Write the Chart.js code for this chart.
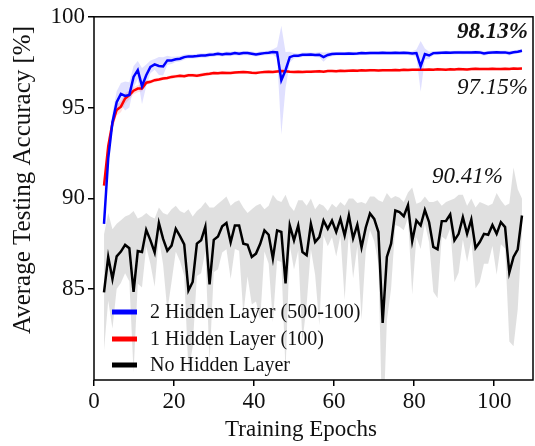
<!DOCTYPE html>
<html>
<head>
<meta charset="utf-8">
<script src="https://cdn.jsdelivr.net/npm/chart.js@4.4.1/dist/chart.umd.min.js"></script>
<style>
  html, body { margin: 0; padding: 0; background: #fff; }
  #wrap { width: 535px; height: 446px; }
</style>
</head>
<body>
<div id="wrap"><canvas id="accChart" width="535" height="446"></canvas></div>
<script>
// sampling grid of the curves (one point per evaluation)
const FIRST_EPOCH = 2.5;
const EPOCH_STEP = 1.055;

const seriesNames = ['2 Hidden Layer (500-100)', '1 Hidden Layer (100)', 'No Hidden Layer'];
const finalLabels = ['98.13%', '97.15%', '90.41%'];
const xTitle = 'Training Epochs';
const yTitle = 'Average Testing Accuracy [%]';
const xTicks = [0, 20, 40, 60, 80, 100];
const yTicks = [85, 90, 95, 100];

// 2 hidden layers (500-100): mean and half-width of the band
const twoHidden = [
  88.6, 92.2, 94.2, 95.3, 95.75, 95.64, 95.7, 96.69, 97.06, 96.18,
  96.78, 97.24, 97.38, 97.29, 97.27, 97.6, 97.6, 97.66, 97.69, 97.78,
  97.82, 97.82, 97.84, 97.87, 97.87, 97.91, 97.92, 97.97, 97.93, 97.97,
  97.95, 98.0, 97.97, 98.0, 98.0, 97.97, 97.93, 97.97, 98.0, 98.02,
  98.06, 98.04, 96.51, 97.06, 97.78, 97.86, 97.86, 97.91, 97.91, 97.92,
  97.9, 97.91, 97.78, 97.9, 97.95, 97.96, 97.97, 97.96, 97.98, 97.97,
  97.98, 98.0, 97.99, 98.0, 98.01, 98.0, 98.02, 98.01, 98.0, 98.02,
  98.01, 98.02, 98.0, 97.98, 98.0, 97.27, 97.95, 97.87, 98.0, 98.01,
  98.02, 98.03, 98.02, 98.03, 98.04, 98.03, 98.04, 98.03, 98.05, 98.04,
  97.98, 98.02, 98.04, 98.05, 98.03, 98.04, 97.99, 98.05, 98.08, 98.13
];
const twoHiddenSpread = [
  0.3, 0.5, 0.5, 0.6, 0.6, 0.8, 0.7, 0.6, 0.5, 1.0,
  0.6, 0.35, 0.3, 0.5, 0.5, 0.25, 0.2, 0.15, 0.15, 0.15,
  0.12, 0.12, 0.12, 0.12, 0.12, 0.12, 0.12, 0.12, 0.12, 0.12,
  0.12, 0.12, 0.12, 0.12, 0.12, 0.12, 0.12, 0.12, 0.12, 0.12,
  0.15, 0.3, 3.0, 1.0, 0.3, 0.15, 0.12, 0.12, 0.12, 0.12,
  0.12, 0.15, 0.25, 0.15, 0.12, 0.1, 0.1, 0.1, 0.1, 0.1,
  0.1, 0.1, 0.1, 0.1, 0.1, 0.1, 0.1, 0.1, 0.1, 0.1,
  0.1, 0.1, 0.1, 0.12, 0.2, 1.4, 0.3, 0.2, 0.12, 0.1,
  0.1, 0.1, 0.1, 0.1, 0.1, 0.1, 0.1, 0.1, 0.1, 0.1,
  0.12, 0.1, 0.1, 0.1, 0.1, 0.1, 0.12, 0.1, 0.1, 0.1
];

// 1 hidden layer (100): mean and half-width of the band
const oneHidden = [
  90.7, 92.87, 94.15, 94.87, 95.05, 95.5, 95.69, 95.93, 96.05, 96.05,
  96.37, 96.42, 96.51, 96.55, 96.6, 96.63, 96.69, 96.72, 96.75, 96.73,
  96.78, 96.78, 96.76, 96.8, 96.84, 96.86, 96.9, 96.89, 96.92, 96.91,
  96.9, 96.93, 96.95, 96.96, 96.94, 96.92, 96.91, 96.94, 96.96, 96.97,
  96.96, 96.99, 97.02, 97.0, 96.97, 96.96, 96.97, 96.96, 96.98, 96.97,
  96.99, 97.0, 96.98, 97.01, 97.02, 97.0, 97.03, 97.02, 97.03, 97.04,
  97.03, 97.05, 97.04, 97.06, 97.05, 97.04, 97.06, 97.05, 97.06, 97.07,
  97.06, 97.08, 97.07, 97.09, 97.08, 97.09, 97.08, 97.1, 97.09, 97.11,
  97.1, 97.09, 97.11, 97.1, 97.12, 97.11, 97.1, 97.12, 97.14, 97.12,
  97.13, 97.12, 97.14, 97.13, 97.12, 97.14, 97.13, 97.15, 97.14, 97.15
];
const oneHiddenSpread = [
  0.4, 0.4, 0.35, 0.3, 0.3, 0.3, 0.25, 0.2, 0.2, 0.15,
  0.12, 0.1, 0.1, 0.1, 0.1, 0.1, 0.1, 0.1, 0.1, 0.1,
  0.1, 0.1, 0.1, 0.1, 0.1, 0.1, 0.1, 0.1, 0.1, 0.1,
  0.08, 0.08, 0.08, 0.08, 0.08, 0.08, 0.08, 0.08, 0.08, 0.08,
  0.08, 0.08, 0.08, 0.08, 0.08, 0.08, 0.08, 0.08, 0.08, 0.08,
  0.08, 0.08, 0.08, 0.08, 0.08, 0.08, 0.08, 0.08, 0.08, 0.08,
  0.08, 0.08, 0.08, 0.08, 0.08, 0.08, 0.08, 0.08, 0.08, 0.08,
  0.08, 0.08, 0.08, 0.08, 0.08, 0.08, 0.08, 0.08, 0.08, 0.08,
  0.08, 0.08, 0.08, 0.08, 0.08, 0.08, 0.08, 0.08, 0.08, 0.08,
  0.08, 0.08, 0.08, 0.08, 0.08, 0.08, 0.08, 0.08, 0.08, 0.08
];

// no hidden layer: mean, upper and lower edge of the grey band
const noHidden = [
  84.82, 86.78, 85.56, 86.81, 87.07, 87.44, 87.26, 84.85, 87.1, 87.05,
  88.27, 87.69, 87.02, 88.65, 87.77, 87.12, 87.4, 88.33, 87.92, 87.47,
  84.93, 85.4, 87.51, 87.69, 88.44, 85.26, 87.72, 87.9, 88.46, 88.65,
  87.58, 88.51, 88.51, 87.51, 87.45, 86.78, 86.96, 87.5, 88.24, 88.0,
  86.69, 88.24, 88.15, 85.32, 88.51, 87.69, 88.51, 87.05, 86.87, 88.6,
  87.6, 87.87, 88.78, 88.33, 88.78, 88.15, 88.87, 87.96, 89.06, 87.8,
  88.55, 87.3, 88.4, 89.17, 88.87, 88.15, 83.14, 86.78, 87.51, 89.33,
  89.24, 89.02, 89.63, 87.65, 88.78, 88.51, 89.36, 88.69, 87.33, 87.2,
  88.75, 88.76, 89.12, 87.69, 88.05, 88.96, 88.05, 88.84, 87.27, 87.6,
  88.05, 88.0, 88.54, 88.05, 88.69, 88.42, 85.92, 86.78, 87.2, 89.06
];
const noHiddenUpper = [
  88.02, 89.2, 88.3, 88.61, 88.8, 89.0, 89.1, 89.3, 88.9, 89.0,
  89.2, 89.0, 88.9, 89.5, 89.2, 89.1, 89.4, 89.6, 89.3, 89.2,
  89.4, 89.0, 89.3, 89.5, 89.8, 89.5, 89.5, 89.7, 89.9, 90.1,
  89.6, 89.8, 89.9, 89.5, 89.2, 89.4, 89.6, 89.7, 89.4, 89.6,
  90.2, 89.9, 89.8, 90.2, 89.6, 89.3, 89.9, 89.9, 89.6, 90.0,
  89.4, 89.7, 89.6, 89.3, 89.7, 89.5, 89.8, 89.6, 90.0, 90.0,
  89.74, 89.8, 89.7, 90.1, 90.1, 89.9, 89.8, 90.3, 90.0, 90.13,
  90.04, 89.8, 90.33, 90.6, 89.7, 89.8, 90.1, 89.8, 89.8, 89.9,
  89.6, 89.8, 89.9, 90.0, 90.2, 90.2, 89.6, 90.0, 89.5, 89.8,
  89.7, 89.6, 89.7, 90.3, 89.9, 89.6, 89.72, 91.7, 90.5, 90.0
];
const noHiddenLower = [
  81.62, 84.36, 82.82, 85.01, 85.34, 85.88, 85.42, 80.4, 85.3, 85.1,
  87.34, 86.38, 85.14, 87.8, 86.34, 83.8, 85.4, 87.06, 86.54, 85.74,
  80.46, 81.8, 85.72, 85.88, 87.08, 81.02, 85.94, 86.1, 87.02, 87.2,
  85.56, 87.22, 87.12, 83.6, 85.7, 84.16, 84.32, 83.3, 87.08, 86.4,
  83.18, 86.58, 86.5, 80.44, 87.42, 86.08, 87.12, 82.1, 84.14, 87.2,
  85.8, 83.0, 87.96, 87.36, 87.86, 86.8, 87.94, 84.4, 88.12, 85.6,
  87.36, 83.3, 87.1, 88.24, 87.64, 86.4, 76.48, 83.26, 85.02, 88.53,
  88.44, 88.24, 88.93, 84.7, 87.86, 87.22, 88.62, 87.58, 84.86, 84.5,
  87.9, 87.72, 88.34, 85.38, 85.9, 87.72, 86.5, 87.68, 85.04, 85.4,
  86.4, 86.4, 87.38, 85.8, 87.48, 87.24, 82.12, 81.86, 83.9, 88.12
];

const FONT = "'Liberation Serif', 'Times New Roman', serif";

const xAt = (i) => FIRST_EPOCH + i * EPOCH_STEP;
const toPoints = (vals) => vals.map((v, i) => ({ x: xAt(i), y: v }));
const shift = (vals, spread, sign) => vals.map((v, i) => ({ x: xAt(i), y: v + sign * spread[i] }));

const lineSet = (label, vals, color) => ({
  label, data: toPoints(vals), borderColor: color, borderWidth: 2.5,
  pointRadius: 0, fill: false, tension: 0, order: 0
});
const edgeSet = (points, color, isUpper) => ({
  label: '', data: points, borderColor: 'transparent', borderWidth: 0,
  backgroundColor: color, pointRadius: 0, fill: isUpper ? '+1' : false, tension: 0, order: 1
});

// frame, axis titles, final accuracy labels and the legend inside the plot
const decorations = {
  id: 'decorations',
  afterDraw(chart) {
    const { ctx, chartArea: a } = chart;
    ctx.save();
    ctx.strokeStyle = '#000';
    ctx.lineWidth = 1.5;
    ctx.strokeRect(a.left, a.top, a.right - a.left, a.bottom - a.top);

    ctx.fillStyle = '#111';
    ctx.textAlign = 'center';
    ctx.textBaseline = 'middle';
    ctx.font = `23px ${FONT}`;
    ctx.fillText(xTitle, 301, 430);
    ctx.save();
    ctx.translate(23, 180);
    ctx.rotate(-Math.PI / 2);
    ctx.font = `25px ${FONT}`;
    ctx.fillText(yTitle, 0, 0);
    ctx.restore();

    ctx.textAlign = 'right';
    ctx.font = `italic bold 23px ${FONT}`;
    ctx.fillText(finalLabels[0], 528, 32);
    ctx.font = `italic 23px ${FONT}`;
    ctx.fillText(finalLabels[1], 528, 88);
    ctx.fillText(finalLabels[2], 503, 177);

    const colors = ['#0000ff', '#ff0000', '#000000'];
    const rows = [312, 339, 365];
    ctx.textAlign = 'left';
    ctx.font = `20px ${FONT}`;
    rows.forEach((y, k) => {
      ctx.strokeStyle = colors[k];
      ctx.lineWidth = 5;
      ctx.beginPath();
      ctx.moveTo(112, y);
      ctx.lineTo(137, y);
      ctx.stroke();
      ctx.fillStyle = '#111';
      ctx.fillText(seriesNames[k], 150, y + 1);
    });
    ctx.restore();
  }
};

const blueBand = 'rgba(0,0,255,0.12)';
const redBand = 'rgba(255,0,0,0.12)';
const greyBand = 'rgba(0,0,0,0.12)';

new Chart(document.getElementById('accChart'), {
  type: 'line',
  data: {
    datasets: [
      lineSet(seriesNames[0], twoHidden, '#0000ff'),
      lineSet(seriesNames[1], oneHidden, '#ff0000'),
      lineSet(seriesNames[2], noHidden, '#000000'),
      edgeSet(shift(twoHidden, twoHiddenSpread, 1), blueBand, true),
      edgeSet(shift(twoHidden, twoHiddenSpread, -1), blueBand, false),
      edgeSet(shift(oneHidden, oneHiddenSpread, 1), redBand, true),
      edgeSet(shift(oneHidden, oneHiddenSpread, -1), redBand, false),
      edgeSet(toPoints(noHiddenUpper), greyBand, true),
      edgeSet(toPoints(noHiddenLower), greyBand, false)
    ]
  },
  options: {
    responsive: false,
    animation: false,
    devicePixelRatio: 1,
    layout: { padding: { top: 13, right: 2, left: 0, bottom: 0 } },
    plugins: { legend: { display: false }, tooltip: { enabled: false } },
    scales: {
      x: {
        type: 'linear', min: 0, max: 109.7,
        afterBuildTicks: (s) => { s.ticks = xTicks.map(v => ({ value: v })); },
        afterFit: (s) => { s.height = 66; },
        grid: { drawOnChartArea: false, drawTicks: true, tickLength: 6, color: '#000', lineWidth: 1.5 },
        border: { display: false },
        ticks: { color: '#111', font: { family: FONT, size: 23 }, padding: 2, maxRotation: 0 },
        title: { display: false }
      },
      y: {
        min: 80, max: 100,
        afterBuildTicks: (s) => { s.ticks = yTicks.map(v => ({ value: v })); },
        afterFit: (s) => { s.width = 94; },
        grid: { drawOnChartArea: false, drawTicks: true, tickLength: 6, color: '#000', lineWidth: 1.5 },
        border: { display: false },
        ticks: { color: '#111', font: { family: FONT, size: 23 }, padding: 3 },
        title: { display: false }
      }
    }
  },
  plugins: [decorations]
});
</script>
</body>
</html>
